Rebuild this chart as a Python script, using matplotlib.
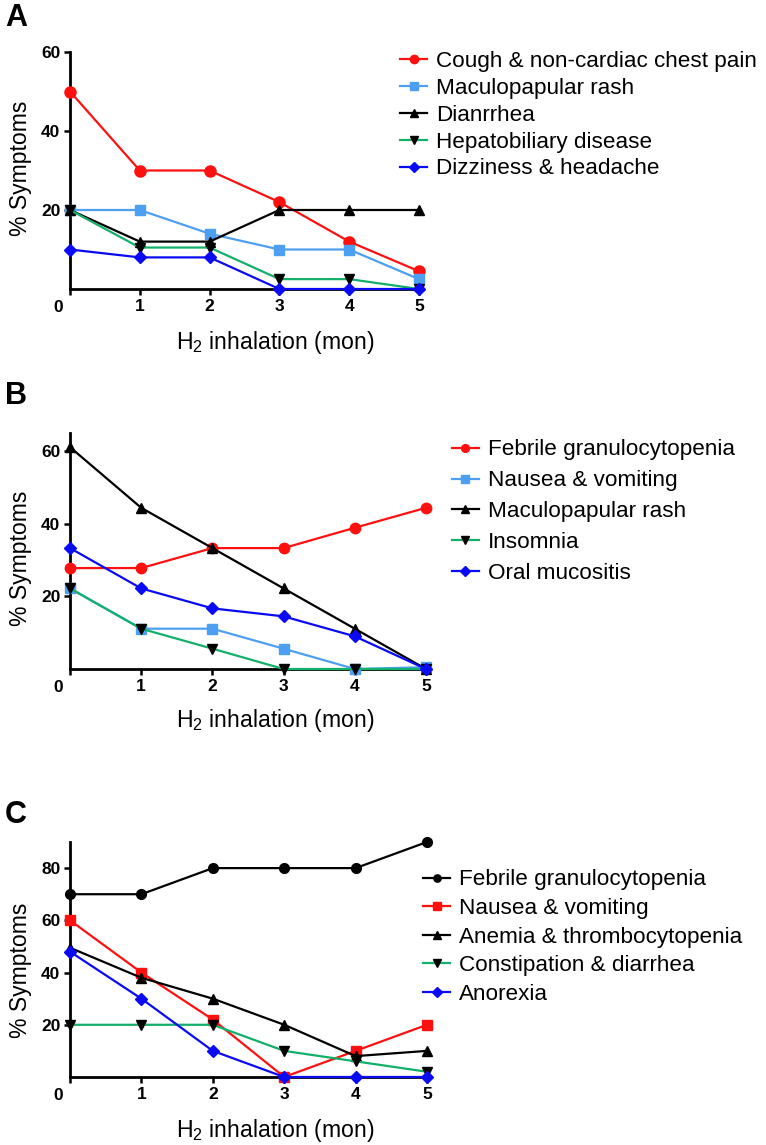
import matplotlib
matplotlib.use("Agg")
import matplotlib.pyplot as plt

plt.rcParams['font.family'] = ['Liberation Sans', 'DejaVu Sans']
plt.rcParams['mathtext.fontset'] = 'custom'
plt.rcParams['mathtext.rm'] = 'Liberation Sans'
plt.rcParams['mathtext.it'] = 'Liberation Sans:italic'

months = [0, 1, 2, 3, 4, 5]
x_tick_labels = ['', '1', '2', '3', '4', '5']

# Panel A
a_labels = ["Cough & non-cardiac chest pain", "Maculopapular rash", "Dianrrhea",
            "Hepatobiliary disease", "Dizziness & headache"]
a_cough = [50, 30, 30, 22, 12, 4.5]
a_rash = [20, 20, 14, 10, 10, 2.5]
a_diarrhea = [20, 12, 12, 20, 20, 20]
a_hepato = [20, 10.5, 10.5, 2.5, 2.5, 0]
a_dizzy = [10, 8, 8, 0, 0, 0]
a_yticks = [20, 40, 60]

# Panel B
b_labels = ["Febrile granulocytopenia", "Nausea & vomiting", "Maculopapular rash",
            "Insomnia", "Oral mucositis"]
b_febrile = [27.8, 27.8, 33.3, 33.3, 38.9, 44.4]
b_nausea = [22.2, 11.1, 11.1, 5.6, 0, 0.5]
b_rash = [61.1, 44.4, 33.3, 22.2, 11.1, 0]
b_insomnia = [22.2, 11.1, 5.6, 0, 0, 0]
b_oral = [33.3, 22.2, 16.7, 14.5, 9, 0]
b_yticks = [20, 40, 60]

# Panel C
c_labels = ["Febrile granulocytopenia", "Nausea & vomiting", "Anemia & thrombocytopenia",
            "Constipation & diarrhea", "Anorexia"]
c_febrile = [70, 70, 80, 80, 80, 90]
c_nausea = [60, 40, 22, 0, 10, 20]
c_anemia = [49.5, 38, 30, 20, 8, 10]
c_constip = [20, 20, 20, 10, 6, 2]
c_anorexia = [48, 30, 10, 0, 0, 0]
c_yticks = [20, 40, 60, 80]

RED = '#FF1010'
LBLUE = '#4D9FF2'
BLACK = '#000000'
GREEN = '#12B06A'
BLUE = '#0A0AF5'

W, H = 766, 1145
fig = plt.figure(figsize=(W / 100, H / 100), dpi=100)


def px_axes(x0, x1, ytop, ybot):
    return fig.add_axes([x0 / W, 1 - ybot / H, (x1 - x0) / W, (ybot - ytop) / H])


def style(ax, ymax, yticks):
    ax.set_xlim(0, 5)
    ax.set_ylim(0, ymax)
    for s in ['top', 'right']:
        ax.spines[s].set_visible(False)
    for s in ['left', 'bottom']:
        ax.spines[s].set_linewidth(2.0)
    ax.set_xticks(months)
    ax.set_xticklabels(x_tick_labels)
    ax.set_yticks(yticks)
    ax.set_yticklabels([str(v) for v in yticks])
    ax.tick_params(axis='both', direction='out', length=4.5, width=1.8,
                   labelsize=12.5)
    ax.tick_params(axis='x', pad=3.0)
    ax.tick_params(axis='y', pad=2.5)
    for lab in ax.get_xticklabels() + ax.get_yticklabels():
        lab.set_fontweight('bold')
    ax.annotate('0', xy=(0, 0), xycoords='axes fraction', xytext=(-12, -18),
                textcoords='offset pixels', ha='center', va='center',
                fontsize=12.5, fontweight='bold')


def series(ax, y, color, marker, mfc, ms, label):
    ax.plot(months, y, color=color, lw=1.6, marker=marker, ms=ms,
            mfc=mfc, mec=mfc, clip_on=False, label=label, zorder=3)


def legend(ax, x, ytop, spacing):
    leg = ax.legend(loc='upper left', bbox_to_anchor=(x / W, 1 - ytop / H),
                    bbox_transform=fig.transFigure, frameon=False,
                    fontsize=16.2, handlelength=1.2, handletextpad=0.4,
                    borderpad=0, borderaxespad=0, labelspacing=spacing,
                    markerscale=0.75)
    return leg


# ---- Panel A
axA = px_axes(70, 419, 52, 289)
style(axA, 60, a_yticks)
series(axA, a_cough, RED, 'o', RED, 8, a_labels[0])
series(axA, a_rash, LBLUE, 's', LBLUE, 7.5, a_labels[1])
series(axA, a_diarrhea, BLACK, '^', BLACK, 7.5, a_labels[2])
series(axA, a_hepato, GREEN, 'v', BLACK, 7.5, a_labels[3])
series(axA, a_dizzy, BLUE, 'D', BLUE, 6.5, a_labels[4])
legend(axA, 400, 51, 0.26)

# ---- Panel B
axB = px_axes(70, 426, 433, 669)
style(axB, 65, b_yticks)
series(axB, b_febrile, RED, 'o', RED, 7.5, b_labels[0])
series(axB, b_nausea, LBLUE, 's', LBLUE, 7, b_labels[1])
series(axB, b_rash, BLACK, '^', BLACK, 7.5, b_labels[2])
series(axB, b_insomnia, GREEN, 'v', BLACK, 7.5, b_labels[3])
series(axB, b_oral, BLUE, 'D', BLUE, 6.5, b_labels[4])
legend(axB, 452, 439.5, 0.44)

# ---- Panel C
axC = px_axes(70, 427, 842, 1077)
style(axC, 90, c_yticks)
series(axC, c_febrile, BLACK, 'o', BLACK, 7, c_labels[0])
series(axC, c_nausea, RED, 's', RED, 7.5, c_labels[1])
series(axC, c_anemia, BLACK, '^', BLACK, 7.5, c_labels[2])
series(axC, c_constip, GREEN, 'v', GREEN, 7.5, c_labels[3])
axC.lines[-1].set_markerfacecolor(BLACK)
axC.lines[-1].set_markeredgecolor(BLACK)
series(axC, c_anorexia, BLUE, 'D', BLUE, 6.5, c_labels[4])
legend(axC, 423, 869.5, 0.335)

# Axis labels and panel letters
xlab = 'H$_2$ inhalation (mon)'
for yc in [343, 720, 1130]:
    fig.text(275 / W, 1 - yc / H, xlab, ha='center', va='center', fontsize=16.6)
for yc in [168, 558, 970]:
    fig.text(21 / W, 1 - yc / H, '% Symptoms', ha='center', va='center',
             rotation=90, fontsize=16.6)
for letter, yc in [('A', 18), ('B', 396), ('C', 815)]:
    fig.text(5 / W, 1 - yc / H, letter, ha='left', va='center',
             fontsize=22, fontweight='bold')

fig.savefig('out.png', dpi=100)
